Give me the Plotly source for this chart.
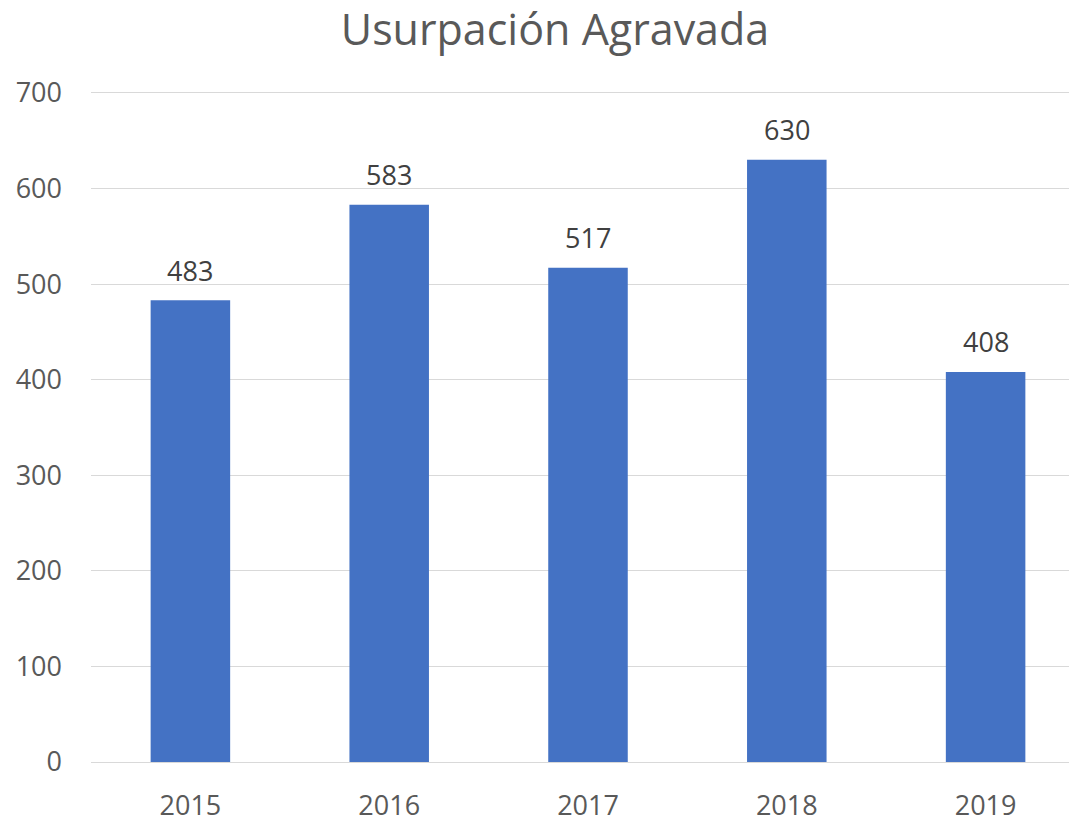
import plotly.graph_objects as go

years = ["2015", "2016", "2017", "2018", "2019"]
values = [483, 583, 517, 630, 408]

FONT = "Open Sans, Noto Sans, sans-serif"

fig = go.Figure(go.Bar(
    x=years, y=values, width=0.4,
    marker=dict(color="#4472C4", line=dict(width=0)),
    hoverinfo="x+y",
))

for i, v in enumerate(values):
    fig.add_annotation(x=i, y=v, xref="x", yref="y", text=str(v), showarrow=False, yanchor="middle",
                       yshift=30, font=dict(size=27, color="#404040", family=FONT))

fig.update_layout(
    width=1077, height=819,
    paper_bgcolor="white", plot_bgcolor="white",
    margin=dict(l=83, r=0, t=82, b=65),
    title=dict(text="Usurpación Agravada", x=547 / 1077, xanchor="center", y=(819 - 22) / 819, yanchor="middle",
               font=dict(size=43, color="#595959", family=FONT)),
    font=dict(family=FONT, color="#595959"),
    showlegend=False,
)
fig.update_yaxes(range=[0, 703], tickvals=[0, 100, 200, 300, 400, 500, 600, 700], showgrid=True,
                 gridcolor="#D9D9D9", gridwidth=1.3,
                 zeroline=False, showline=False, tickfont=dict(size=27, color="#595959"),
                 ticks="", ticklabelstandoff=28)
fig.update_xaxes(type="category", range=[-0.5, 4.5], showline=True, linecolor="#D9D9D9", linewidth=1.3,
                 tickfont=dict(size=27, color="#595959"), ticks="", ticklabelstandoff=19)

fig.write_html("out.html")
